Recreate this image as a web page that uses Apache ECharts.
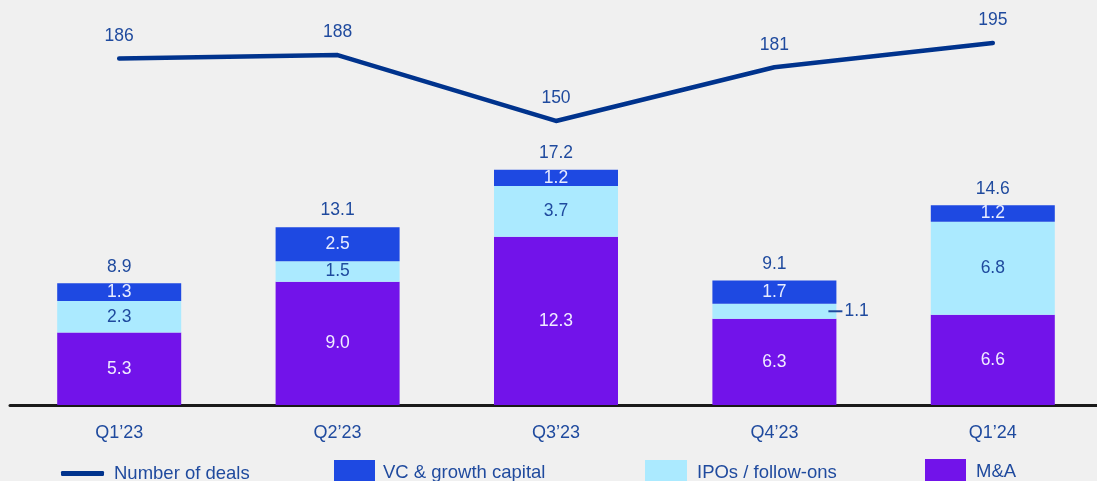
<!DOCTYPE html>
<html>
<head>
<meta charset="utf-8">
<script src="https://cdn.jsdelivr.net/npm/echarts@6/dist/echarts.min.js"></script>
<style>
  html, body { margin: 0; padding: 0; background: #f0f0f0; overflow: hidden; }
  #main { width: 1105px; height: 481px; }
</style>
</head>
<body>
<div id="main"></div>
<script>
// 数据
const quarters = ['Q1’23', 'Q2’23', 'Q3’23', 'Q4’23', 'Q1’24'];
const deals = [186, 188, 150, 181, 195];
const mna = [5.3, 9.0, 12.3, 6.3, 6.6];
const ipos = [2.3, 1.5, 3.7, 1.1, 6.8];
const vc = [1.3, 2.5, 1.2, 1.7, 1.2];
const totals = [8.9, 13.1, 17.2, 9.1, 14.6];

const textBlue = '#1f4a9e';
const font = 'Liberation Sans, Arial, sans-serif';

let myChart = echarts.init(document.getElementById('main'));

let option = {
  backgroundColor: '#f0f0f0',
  animation: false,
  textStyle: { fontFamily: font },
  grid: { left: 10, right: 3, top: 0, bottom: 76 },
  legend: [
    {
      data: [{ name: 'Number of deals', itemStyle: { color: '#00338d', borderWidth: 0 } }],
      left: 61, top: 464, padding: 0,
      icon: 'roundRect', itemWidth: 43, itemHeight: 5, itemGap: 0,
      textStyle: { color: textBlue, fontSize: 18.5, padding: [0, 0, 0, 5] }
    },
    {
      data: ['VC & growth capital'], left: 334, top: 460, padding: 0,
      icon: 'rect', itemWidth: 41, itemHeight: 26,
      textStyle: { color: textBlue, fontSize: 18.5, padding: [0, 0, 0, 3] }
    },
    {
      data: ['IPOs / follow-ons'], left: 645, top: 460, padding: 0,
      icon: 'rect', itemWidth: 42, itemHeight: 26,
      textStyle: { color: textBlue, fontSize: 18.5, padding: [0, 0, 0, 5] }
    },
    {
      data: ['M&A'], left: 925, top: 459, padding: 0,
      icon: 'rect', itemWidth: 41, itemHeight: 26,
      textStyle: { color: textBlue, fontSize: 18.5, padding: [0, 0, 0, 5] }
    }
  ],
  xAxis: {
    type: 'category',
    data: quarters,
    axisTick: { show: false },
    axisLine: { lineStyle: { color: '#1a1a1a', width: 3 } },
    axisLabel: { color: textBlue, fontSize: 18, margin: 19 }
  },
  yAxis: [
    { type: 'value', min: 0, max: 29.6, show: false, splitLine: { show: false } },
    { type: 'value', min: -13.9, max: 219.8, show: false, splitLine: { show: false } }
  ],
  series: [
    {
      name: 'Number of deals',
      type: 'line',
      yAxisIndex: 1,
      data: deals,
      symbol: 'circle',
      symbolSize: 1,
      itemStyle: { color: '#00338d' },
      lineStyle: { color: '#00338d', width: 4.5, cap: 'round', join: 'round' },
      label: { show: true, position: 'top', distance: 13, color: textBlue, fontSize: 17.5 },
      z: 5
    },
    {
      name: 'M&A',
      type: 'bar',
      stack: 'total',
      data: mna,
      barWidth: 124,
      itemStyle: { color: '#7213ea' },
      label: {
        show: true, position: 'inside', color: '#f0ecff', fontSize: 17.5,
        formatter: p => p.value.toFixed(1)
      }
    },
    {
      name: 'IPOs / follow-ons',
      type: 'bar',
      stack: 'total',
      data: ipos.map((v, i) => i === 3 ? {
        value: v,
        label: {
          position: 'right', distance: -8,
          formatter: '{dash|}{val|' + v.toFixed(1) + '}',
          rich: {
            dash: { width: 14, height: 2, backgroundColor: textBlue },
            val: { color: textBlue, fontSize: 17.5, padding: [0, 0, 0, 2] }
          }
        }
      } : v),
      itemStyle: { color: '#abeaff' },
      label: {
        show: true, position: 'inside', color: textBlue, fontSize: 17.5,
        formatter: p => p.value.toFixed(1)
      }
    },
    {
      name: 'VC & growth capital',
      type: 'bar',
      stack: 'total',
      data: vc,
      itemStyle: { color: '#1e49e2' },
      label: {
        show: true, position: 'inside', color: '#e8ecff', fontSize: 17.5,
        formatter: p => p.value.toFixed(1)
      }
    },
    {
      name: 'Total',
      type: 'scatter',
      data: totals,
      symbolSize: 0,
      itemStyle: { opacity: 1 },
      label: {
        show: true, position: 'top', distance: 7, color: textBlue, fontSize: 17.5,
        formatter: p => p.value.toFixed(1)
      },
      tooltip: { show: false }
    }
  ]
};

option && myChart.setOption(option);
</script>
</body>
</html>
